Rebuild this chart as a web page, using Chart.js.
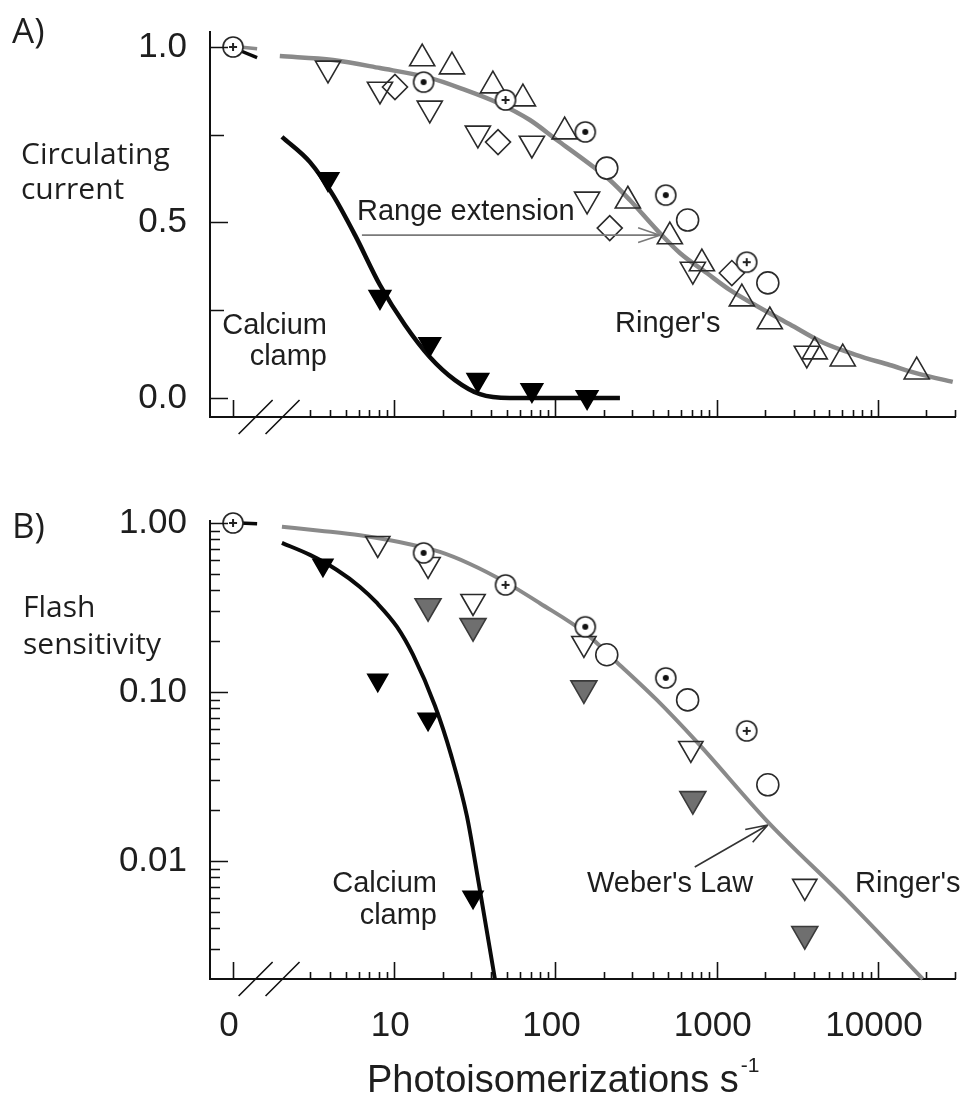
<!DOCTYPE html>
<html>
<head>
<meta charset="utf-8">
<title>Circulating current and flash sensitivity</title>
<script src="https://cdn.jsdelivr.net/npm/chart.js@4.4.1/dist/chart.umd.min.js"></script>
<style>
  html, body { margin: 0; padding: 0; background: #fff; }
  #page { position: relative; width: 964px; height: 1097px; overflow: hidden; }
  canvas { position: absolute; left: 0; }
  #chartA { top: 0; }
  #chartB { top: 470px; }
  .lbl { position: absolute; white-space: nowrap; color: #1e1e1e;
         font-family: 'Liberation Sans', Arial, sans-serif; font-size: 29px; line-height: 29px; }
  .hum { font-family: 'Open Sans', 'Noto Sans', sans-serif; font-size: 30px; line-height: 30px; }
  .panel { font-family: 'Open Sans', 'Noto Sans', sans-serif; font-size: 35px; line-height: 35px; }
  .right { text-align: right; }
  .title { font-size: 38px; line-height: 38px; }
  .title sup { font-size: 21px; line-height: 0; position: relative; top: -6px; margin-left: 2px; }
</style>
</head>
<body>
<div id="page">
  <canvas id="chartA" width="964" height="460"></canvas>
  <canvas id="chartB" width="964" height="627"></canvas>

  <div class="lbl panel" style="left:12px; top:12px;">A)</div>
  <div class="lbl hum" style="left:21px; top:138px;">Circulating</div>
  <div class="lbl hum" style="left:21px; top:173px;">current</div>
  <div class="lbl right" style="right:637px; top:310px;">Calcium</div>
  <div class="lbl right" style="right:637px; top:341px;">clamp</div>
  <div class="lbl" style="left:357px; top:196px;">Range extension</div>
  <div class="lbl" style="left:615px; top:308px;">Ringer's</div>

  <div class="lbl panel" style="left:12px; top:507px;">B)</div>
  <div class="lbl hum" style="left:23px; top:591px;">Flash</div>
  <div class="lbl hum" style="left:23px; top:628px;">sensitivity</div>
  <div class="lbl right" style="right:527px; top:868px;">Calcium</div>
  <div class="lbl right" style="right:527px; top:900px;">clamp</div>
  <div class="lbl" style="left:587px; top:868px;">Weber's Law</div>
  <div class="lbl" style="left:855px; top:868px;">Ringer's</div>

  <div class="lbl title" style="left:367px; top:1060px;">Photoisomerizations s<sup>-1</sup></div>
</div>

<script>
// ---- axes ----
const xTickRates = [0, 10, 100, 1000, 10000];
const xTickLabels = ['0', '10', '100', '1000', '10000'];
const yTicksA = [0, 0.5, 1];
const yTickLabelsA = ['0.0', '0.5', '1.0'];
const yTicksB = [0.01, 0.1, 1];
const yTickLabelsB = ['0.01', '0.10', '1.00'];

// ---- dark-adapted reference (circle with mark), shared by both panels ----
const darkRates = [0, 15.2, 49, 153, 483, 1535];
const darkMarks = ['+', '.', '+', '.', '.', '+'];
const darkCurrent = [1.0, 0.90, 0.849, 0.758, 0.578, 0.387];
const darkSens = [1.0, 0.665, 0.430, 0.243, 0.121, 0.0588];

// ---- open circles ----
const circleRates = [208, 660, 2075];
const circleCurrent = [0.655, 0.507, 0.328];
const circleSens = [0.166, 0.0897, 0.0282];

// ---- panel A, Ringer's ----
const upTriRates = [14.9, 22.8, 40.9, 62.8, 114, 281, 512, 809, 1432, 2134, 4055, 6050, 17400];
const upTriCurrent = [0.967, 0.944, 0.890, 0.853, 0.759, 0.562, 0.460, 0.383, 0.283, 0.218, 0.132, 0.112, 0.075];
const downTriRatesA = [3.88, 8.15, 16.6, 33, 71.4, 157, 711, 3620];
const downTriCurrent = [0.939, 0.879, 0.825, 0.754, 0.725, 0.566, 0.366, 0.127];
const diamondRates = [10.1, 44, 217, 1241];
const diamondCurrent = [0.886, 0.729, 0.484, 0.356];

// ---- panel A, calcium clamp ----
const clampRatesA = [3.88, 8.15, 16.6, 33, 71.4, 157];
const clampCurrent = [0.624, 0.288, 0.154, 0.052, 0.023, 0.003];

// ---- panel A fitted curves ----
const ringerFitRatesA = [1.95, 4.17, 8.15, 16.6, 26.7, 43.3, 69.4, 102, 142, 217, 289, 425, 591, 868, 1205, 1773, 2838, 4548, 7280, 11830, 18160, 29100];
const ringerFitCurrent = [0.974, 0.963, 0.940, 0.912, 0.880, 0.842, 0.792, 0.735, 0.687, 0.621, 0.564, 0.479, 0.413, 0.356, 0.308, 0.262, 0.210, 0.158, 0.123, 0.094, 0.068, 0.046];
const clampFitRatesA = [2.01, 3.0, 4.17, 5.71, 8.15, 11.65, 16.6, 23.8, 34, 52, 251];
const clampFitCurrent = [0.744, 0.672, 0.578, 0.464, 0.322, 0.208, 0.117, 0.051, 0.011, 0.0, 0.0];

// ---- panel B ----
const downTriRatesB = [7.9, 16.2, 30.8, 150, 691, 3517];
const downTriSens = [0.756, 0.568, 0.343, 0.1936, 0.0463, 0.00707];
const grayTriRates = [16.2, 30.8, 150, 711, 3517];
const grayTriSens = [0.3217, 0.245, 0.105, 0.0232, 0.00369];
const clampRatesB = [3.61, 7.9, 16.2, 30.8];
const clampSens = [0.563, 0.1175, 0.0691, 0.0061];

const ringerFitRatesB = [2.01, 3.46, 6.13, 13.06, 19.2, 29.5, 48.6, 80, 154, 240, 425, 753, 2075, 6412, 18970];
const ringerFitSens = [0.95, 0.90, 0.845, 0.741, 0.674, 0.572, 0.448, 0.335, 0.222, 0.150, 0.0897, 0.0506, 0.01702, 0.00588, 0.0020];
const clampFitRatesB = [2.01, 3.0, 4.41, 6.13, 7.81, 10.4, 13.06, 17.9, 22.5, 28.2, 33.0, 42.1];
const clampFitSens = [0.762, 0.647, 0.527, 0.418, 0.336, 0.2425, 0.166, 0.0826, 0.0424, 0.01845, 0.0079, 0.0020];

// short stubs drawn just right of the "0" point
const stubRates = [1.1, 1.41];
const stubGrayA = [1.0, 0.995];
const stubBlackA = [0.99, 0.97];
const stubBlackB = [1.0, 0.99];

// arrows, in data units [rate, value]
const rangeArrow = { from: [6.3, 0.464], to: [444, 0.464] };
const weberArrow = { from: [731, 0.0092], to: [2075, 0.0163] };

// x axis is log10 of the rate; the dark point (0) sits at the break, left of 10
const X_MIN = -0.143, X_MAX = 4.478;
const lx = r => (r === 0 ? 0 : Math.log10(r));
const pts = (rates, vals) => rates.map((r, i) => ({ x: lx(r), y: vals[i] }));

const tickFont = { family: "'Liberation Sans', Arial, sans-serif", size: 35 };
const INK = '#1e1e1e';

// tick marks pointing into the plot
const xMarks = xTickRates.map(r => [lx(r), 17]);
for (let k = 0; k <= 4; k++) {
  for (let m = 2; m <= 9; m++) {
    const v = Math.log10(m * Math.pow(10, k));
    if (v > 0.4 && v <= X_MAX) xMarks.push([v, 7]);
  }
}
const yMarksA = [[0, 18], [0.25, 14], [0.5, 18], [0.75, 14], [1, 18]];
const yMarksB = yTicksB.map(v => [v, 18]);
for (let k = -3; k <= -1; k++) {
  for (let m = 2; m <= 9; m++) {
    const v = m * Math.pow(10, k);
    if (v > 0.0025) yMarksB.push([v, 10]);
  }
}
const breakAt = [0.140, 0.307];

const axisMarks = {
  id: 'axisMarks',
  afterDraw(chart, args, opts) {
    const { ctx, chartArea: a, scales: { x, y } } = chart;
    ctx.save();
    ctx.strokeStyle = '#111';
    ctx.lineWidth = 1.6;
    ctx.beginPath();
    xMarks.forEach(([v, len]) => {
      const px = Math.round(x.getPixelForValue(v)) + 0.5;
      ctx.moveTo(px, a.bottom); ctx.lineTo(px, a.bottom - len);
    });
    opts.yMarks.forEach(([v, len]) => {
      const py = Math.round(y.getPixelForValue(v)) + 0.5;
      ctx.moveTo(a.left, py); ctx.lineTo(a.left + len, py);
    });
    breakAt.forEach(v => {
      const px = x.getPixelForValue(v);
      ctx.moveTo(px - 17, a.bottom + 17); ctx.lineTo(px + 17, a.bottom - 17);
    });
    ctx.stroke();

    (opts.arrows || []).forEach(ar => {
      const x0 = x.getPixelForValue(lx(ar.from[0])), y0 = y.getPixelForValue(ar.from[1]);
      const x1 = x.getPixelForValue(lx(ar.to[0])), y1 = y.getPixelForValue(ar.to[1]);
      const ang = Math.atan2(y1 - y0, x1 - x0);
      ctx.strokeStyle = ar.color;
      ctx.lineWidth = 1.6;
      ctx.beginPath();
      ctx.moveTo(x0, y0); ctx.lineTo(x1, y1);
      [-1, 1].forEach(s => {
        ctx.moveTo(x1, y1);
        ctx.lineTo(x1 - 23 * Math.cos(ang + s * 0.33), y1 - 23 * Math.sin(ang + s * 0.33));
      });
      ctx.stroke();
    });
    ctx.restore();
  }
};

// circle with a small plus or dot in the middle
function ringMarker(mark) {
  const c = document.createElement('canvas');
  c.width = 26; c.height = 26;
  const g = c.getContext('2d');
  g.lineWidth = 1.6; g.strokeStyle = '#222'; g.fillStyle = '#fff';
  g.beginPath(); g.arc(13, 13, 10, 0, Math.PI * 2); g.fill(); g.stroke();
  if (mark === '+') {
    g.lineWidth = 2;
    g.beginPath();
    g.moveTo(9, 13); g.lineTo(17, 13); g.moveTo(13, 9); g.lineTo(13, 17);
    g.stroke();
  } else {
    g.fillStyle = '#111';
    g.beginPath(); g.arc(13, 13, 3, 0, Math.PI * 2); g.fill();
  }
  return c;
}
const ringStyles = darkMarks.map(ringMarker);

const marker = (data, style, radius, extra) => Object.assign({
  type: 'scatter', data, pointStyle: style, pointRadius: radius, pointHoverRadius: radius,
  pointBorderColor: '#2a2a2a', pointBorderWidth: 1.6, pointBackgroundColor: 'rgba(0,0,0,0)',
  showLine: false, clip: false, order: 0
}, extra || {});
const curve = (data, color, width) => ({
  type: 'line', data, borderColor: color, borderWidth: width, pointRadius: 0,
  cubicInterpolationMode: 'monotone', fill: false, clip: false, order: 10
});

// label overflow must not push the plot area around
const noPad = s => { s.paddingTop = 0; s.paddingBottom = 0; s.paddingLeft = 0; s.paddingRight = 0; };

function xScale(height, labels) {
  return {
    type: 'linear', min: X_MIN, max: X_MAX,
    afterFit: s => { s.height = height; noPad(s); },
    afterBuildTicks: s => { s.ticks = xTickRates.map(r => ({ value: lx(r) })); },
    grid: { display: false, drawTicks: false },
    border: { display: true, color: '#111', width: 2 },
    ticks: { display: labels, padding: 26, labelOffset: -4, maxRotation: 0, autoSkip: false, color: INK, font: tickFont,
             callback: (v, i) => xTickLabels[i] }
  };
}

function yScale(type, min, max, ticks, labels) {
  return {
    type, min, max,
    afterFit: s => { s.width = 210; noPad(s); },
    afterBuildTicks: s => { s.ticks = ticks.map(v => ({ value: v })); },
    grid: { display: false, drawTicks: false },
    border: { display: true, color: '#111', width: 2 },
    ticks: { padding: 23, color: INK, font: tickFont, autoSkip: false, callback: (v, i) => labels[i] }
  };
}

const common = {
  responsive: false, maintainAspectRatio: false, animation: false, devicePixelRatio: 1, events: []
};

new Chart(document.getElementById('chartA'), {
  type: 'scatter',
  data: {
    datasets: [
      marker(pts(darkRates, darkCurrent), ringStyles, 10),
      marker(pts(circleRates, circleCurrent), 'circle', 11, { pointBackgroundColor: '#fff' }),
      marker(pts(upTriRates, upTriCurrent), 'triangle', 14.5),
      marker(pts(downTriRatesA, downTriCurrent), 'triangle', 14.5, { pointRotation: 180 }),
      marker(pts(diamondRates, diamondCurrent), 'rectRot', 12.5),
      marker(pts(clampRatesA, clampCurrent), 'triangle', 12.5, { pointRotation: 180, pointBackgroundColor: '#000', pointBorderColor: '#000' }),
      curve(pts(ringerFitRatesA, ringerFitCurrent), '#8a8a8a', 4.5),
      curve(pts(clampFitRatesA, clampFitCurrent), '#0a0a0a', 4.5),
      curve(pts(stubRates, stubGrayA), '#8a8a8a', 3.5),
      curve(pts(stubRates, stubBlackA), '#0a0a0a', 3.5)
    ]
  },
  options: Object.assign({}, common, {
    layout: { autoPadding: false, padding: { top: 32, right: 9, left: 0, bottom: 0 } },
    scales: {
      x: xScale(43, false),
      y: yScale('linear', -0.0541, 1.0427, yTicksA, yTickLabelsA)
    },
    plugins: {
      legend: { display: false }, tooltip: { enabled: false },
      axisMarks: { yMarks: yMarksA, arrows: [Object.assign({ color: '#7a7a7a' }, rangeArrow)] }
    }
  }),
  plugins: [axisMarks]
});

new Chart(document.getElementById('chartB'), {
  type: 'scatter',
  data: {
    datasets: [
      marker(pts(darkRates, darkSens), ringStyles, 10),
      marker(pts(circleRates, circleSens), 'circle', 11, { pointBackgroundColor: '#fff' }),
      marker(pts(downTriRatesB, downTriSens), 'triangle', 14, { pointRotation: 180 }),
      marker(pts(grayTriRates, grayTriSens), 'triangle', 15, { pointRotation: 180, pointBackgroundColor: '#6f6f6f', pointBorderColor: '#3a3a3a' }),
      marker(pts(clampRatesB, clampSens), 'triangle', 11.5, { pointRotation: 180, pointBackgroundColor: '#000', pointBorderColor: '#000' }),
      curve(pts(ringerFitRatesB, ringerFitSens), '#8a8a8a', 4),
      curve(pts(clampFitRatesB, clampFitSens), '#0a0a0a', 4),
      curve(pts(stubRates, stubBlackB), '#0a0a0a', 3.5)
    ]
  },
  options: Object.assign({}, common, {
    layout: { autoPadding: false, padding: { top: 51, right: 9, left: 0, bottom: 0 } },
    scales: {
      x: xScale(118, true),
      y: yScale('logarithmic', 0.002, 1.027, yTicksB, yTickLabelsB)
    },
    plugins: {
      legend: { display: false }, tooltip: { enabled: false },
      axisMarks: { yMarks: yMarksB, arrows: [Object.assign({ color: '#333' }, weberArrow)] }
    }
  }),
  plugins: [axisMarks]
});
</script>
</body>
</html>
